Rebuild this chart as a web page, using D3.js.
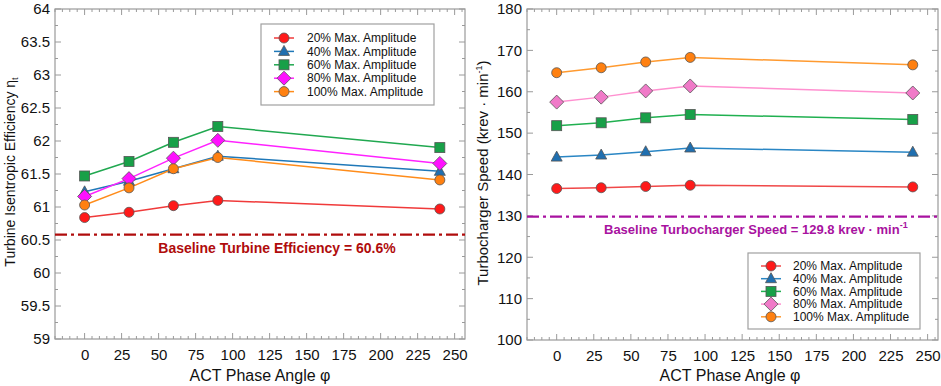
<!DOCTYPE html>
<html><head><meta charset="utf-8">
<script src="https://cdn.jsdelivr.net/npm/d3@7/dist/d3.min.js"></script>
<style>body{margin:0;background:#fff;}svg{display:block;font-family:"Liberation Sans",Arial,sans-serif;}</style>
</head><body>
<svg id="c" width="941" height="386"></svg>
<script>
const phaseAngles = [0, 30, 60, 90, 240];
const seriesNames = ["20% Max. Amplitude","40% Max. Amplitude","60% Max. Amplitude","80% Max. Amplitude","100% Max. Amplitude"];
const efficiency20 = [60.84, 60.92, 61.02, 61.10, 60.97];
const efficiency40 = [61.23, 61.39, 61.58, 61.77, 61.54];
const efficiency60 = [61.47, 61.69, 61.98, 62.22, 61.90];
const efficiency80 = [61.16, 61.43, 61.74, 62.01, 61.66];
const efficiency100 = [61.03, 61.29, 61.58, 61.75, 61.41];
const speed20 = [136.6, 136.8, 137.1, 137.4, 137.0];
const speed40 = [144.2, 144.7, 145.5, 146.4, 145.4];
const speed60 = [151.8, 152.5, 153.7, 154.5, 153.3];
const speed80 = [157.5, 158.7, 160.2, 161.4, 159.7];
const speed100 = [164.6, 165.8, 167.2, 168.3, 166.5];
const baselineEfficiency = 60.58;
const baselineSpeed = 129.8;
const xTicks = [0,25,50,75,100,125,150,175,200,225,250];
const effTicks = [59,59.5,60,60.5,61,61.5,62,62.5,63,63.5,64];
const speedTicks = [100,110,120,130,140,150,160,170,180];

const svg = d3.select("#c");
const markers = ["circle","triangle","square","diamond","circle"];

function drawMarker(g, type, x, y, fill, stroke){
  if(type==="circle") g.append("circle").attr("cx",x).attr("cy",y).attr("r",5).attr("fill",fill).attr("stroke",stroke).attr("stroke-width",0.8);
  else if(type==="square") g.append("rect").attr("x",x-5).attr("y",y-5).attr("width",10).attr("height",10).attr("fill",fill).attr("stroke",stroke).attr("stroke-width",0.8);
  else if(type==="triangle") g.append("path").attr("d",`M${x},${y-6}L${x+5.5},${y+4}L${x-5.5},${y+4}Z`).attr("fill",fill).attr("stroke",stroke).attr("stroke-width",0.8);
  else if(type==="diamond") g.append("path").attr("d",`M${x},${y-7}L${x+7},${y}L${x},${y+7}L${x-7},${y}Z`).attr("fill",fill).attr("stroke",stroke).attr("stroke-width",0.8);
}

function panel(opts){
  const {x0,x1,y0,y1,yDomain,yTicks,yMinorStep,data,colors,fills,baseline,baseColor,baseText,legend,yTitle,xTitleX} = opts;
  const g = svg.append("g");
  const x = d3.scaleLinear().domain([-20,257]).range([x0,x1]);
  const y = d3.scaleLinear().domain(yDomain).range([y1,y0]);
  const frame="#9a9a9a";
  const xMinor = d3.range(-20,258,5);
  xMinor.forEach(v=>{
    const major = v%25===0 && v>=0;
    const L = major?6:3;
    g.append("line").attr("x1",x(v)).attr("x2",x(v)).attr("y1",y1).attr("y2",y1-L).attr("stroke",frame);
    g.append("line").attr("x1",x(v)).attr("x2",x(v)).attr("y1",y0).attr("y2",y0+L).attr("stroke",frame);
  });
  const yMinor = d3.range(yDomain[0], yDomain[1]+1e-9, yMinorStep);
  yMinor.forEach(v=>{
    const major = yTicks.some(t=>Math.abs(t-v)<1e-6);
    const L = major?6:3;
    g.append("line").attr("x1",x0).attr("x2",x0+L).attr("y1",y(v)).attr("y2",y(v)).attr("stroke",frame);
    g.append("line").attr("x1",x1).attr("x2",x1-L).attr("y1",y(v)).attr("y2",y(v)).attr("stroke",frame);
  });
  g.append("rect").attr("x",x0).attr("y",y0).attr("width",x1-x0).attr("height",y1-y0).attr("fill","none").attr("stroke",frame).attr("stroke-width",1.2);
  const ax = g.append("g").attr("transform",`translate(0,${y1})`).call(d3.axisBottom(x).tickValues(xTicks).tickSize(0).tickPadding(10));
  ax.select(".domain").remove();
  ax.selectAll("text").attr("font-size",15).attr("fill","#111").attr("font-family","Liberation Sans, Arial, sans-serif");
  const ay = g.append("g").attr("transform",`translate(${x0},0)`).call(d3.axisLeft(y).tickValues(yTicks).tickSize(0).tickPadding(5).tickFormat(d=>d3.format("~g")(d)));
  ay.select(".domain").remove();
  ay.selectAll("text").attr("font-size",15).attr("fill","#111").attr("font-family","Liberation Sans, Arial, sans-serif");
  g.append("line").attr("x1",x0).attr("x2",x1).attr("y1",y(baseline)).attr("y2",y(baseline))
    .attr("stroke",baseColor).attr("stroke-width",2.2).attr("stroke-dasharray","12,4,3,4");
  baseText(g, y(baseline));
  const line = d3.line().x((d,i)=>x(phaseAngles[i])).y(d=>y(d));
  data.forEach((s,k)=>{
    g.append("path").datum(s).attr("d",line).attr("fill","none").attr("stroke",colors[k]).attr("stroke-width",1.5);
  });
  data.forEach((s,k)=>{
    s.forEach((v,i)=>drawMarker(g,markers[k],x(phaseAngles[i]),y(v),fills[k],"#555"));
  });
  g.append("rect").attr("x",legend.x).attr("y",legend.y).attr("width",legend.w).attr("height",legend.h).attr("fill","#fff").attr("stroke","#a0a0a0").attr("stroke-width",1.2);
  seriesNames.forEach((n,k)=>{
    const ly = legend.y + legend.first + k*legend.step;
    g.append("line").attr("x1",legend.lx).attr("x2",legend.lx+20).attr("y1",ly).attr("y2",ly).attr("stroke",colors[k]).attr("stroke-width",1.5);
    drawMarker(g,markers[k],legend.lx+10,ly,fills[k],"#555");
    g.append("text").attr("x",legend.tx).attr("y",ly).attr("dy","0.35em").attr("font-size",12).attr("fill","#111").text(n);
  });
  g.append("text").attr("x",xTitleX).attr("y",381).attr("text-anchor","middle").attr("font-size",16).attr("fill","#111").text("ACT Phase Angle φ");
  yTitle(g);
}

panel({
  x0:55,x1:465,y0:9,y1:339,yDomain:[59,64],yTicks:effTicks,yMinorStep:0.25,
  data:[efficiency20,efficiency40,efficiency60,efficiency80,efficiency100],
  colors:["#f03a3a","#1f78b8","#20a850","#ff22ff","#ff8c1a"],
  fills:["#ff1a1a","#1f6fb0","#18a048","#ff10ff","#ff8010"],
  baseline:baselineEfficiency, baseColor:"#b00c0c",
  baseText:(g,yy)=>g.append("text").attr("x",277).attr("y",yy+18).attr("text-anchor","middle").attr("font-size",14).attr("font-weight","bold").attr("fill","#b00c0c").text("Baseline Turbine Efficiency = 60.6%"),
  legend:{x:261,y:24,w:173,h:81,first:14,step:13.4,lx:274,tx:307},
  xTitleX:260,
  yTitle:(g)=>{const t=g.append("text").attr("transform","translate(15,172) rotate(-90)").attr("text-anchor","middle").attr("font-size",14).attr("fill","#111");
    t.append("tspan").text("Turbine Isentropic Efficiency η");
    t.append("tspan").attr("font-size",9).attr("dy",3).text("t");}
});

panel({
  x0:527,x1:938,y0:9,y1:340,yDomain:[100,180],yTicks:speedTicks,yMinorStep:5,
  data:[speed20,speed40,speed60,speed80,speed100],
  colors:["#f04848","#2a86c4","#20b050","#ff90d0","#ff9a30"],
  fills:["#ff1a1a","#1f6fb0","#18a048","#f07ac8","#ff8010"],
  baseline:baselineSpeed, baseColor:"#a812a0",
  baseText:(g,yy)=>{const t=g.append("text").attr("x",604).attr("y",yy+17).attr("font-size",13).attr("font-weight","bold").attr("fill","#a812a0");
    t.append("tspan").text("Baseline Turbocharger Speed = 129.8 krev  ·  min");
    t.append("tspan").attr("font-size",9).attr("dy",-6).text("-1");},
  legend:{x:748,y:253,w:172,h:76,first:13,step:12.7,lx:761,tx:793},
  xTitleX:730,
  yTitle:(g)=>{const t=g.append("text").attr("transform","translate(488,173) rotate(-90)").attr("text-anchor","middle").attr("font-size",15).attr("fill","#111");
    t.append("tspan").text("Turbocharger Speed (krev  ·  min");
    t.append("tspan").attr("font-size",9).attr("dy",-6).text("-1");
    t.append("tspan").attr("dy",6).text(")");}
});
</script>
</body></html>
